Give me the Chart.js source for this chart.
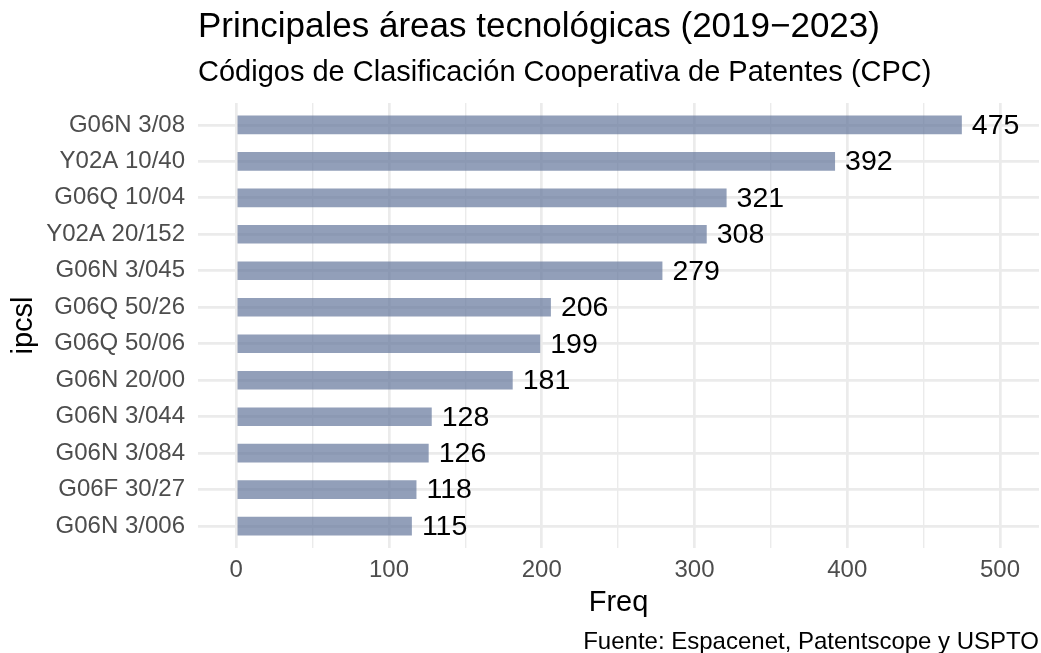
<!DOCTYPE html>
<html>
<head>
<meta charset="utf-8">
<script src="https://cdn.jsdelivr.net/npm/chart.js@4.4.1/dist/chart.umd.min.js"></script>
<style>
  html, body { margin: 0; padding: 0; background: #fff; }
</style>
</head>
<body>
<canvas id="ipcChart" width="1041" height="653"></canvas>
<script>
// CPC codes, listed top to bottom
const codes = [
  'G06N 3/08', 'Y02A 10/40', 'G06Q 10/04', 'Y02A 20/152',
  'G06N 3/045', 'G06Q 50/26', 'G06Q 50/06', 'G06N 20/00',
  'G06N 3/044', 'G06N 3/084', 'G06F 30/27', 'G06N 3/006'
];
const freq = [475, 392, 321, 308, 279, 206, 199, 181, 128, 126, 118, 115];
const freqTicks = [0, 100, 200, 300, 400, 500];

const titleText = 'Principales áreas tecnológicas (2019−2023)';
const subtitleText = 'Códigos de Clasificación Cooperativa de Patentes (CPC)';
const captionText = 'Fuente: Espacenet, Patentscope y USPTO';

const FONT = "'Liberation Sans', Arial, Helvetica, sans-serif";
Chart.defaults.font.family = FONT;

// major ticks carry labels, minor ones sit halfway between
function freqGrid() {
  const out = [];
  freqTicks.forEach((v, i) => {
    out.push({ value: v, major: true });
    if (i < freqTicks.length - 1) out.push({ value: (v + freqTicks[i + 1]) / 2 });
  });
  return out;
}

// value labels at the end of each bar, plus title / subtitle / caption
const textLayer = {
  id: 'textLayer',
  afterDatasetsDraw(chart) {
    const ctx = chart.ctx;
    const meta = chart.getDatasetMeta(0);
    ctx.save();
    ctx.fillStyle = '#000';
    ctx.font = '28.5px ' + FONT;
    ctx.textAlign = 'left';
    ctx.textBaseline = 'middle';
    meta.data.forEach((bar, i) => {
      ctx.fillText(String(freq[i]), bar.x + 10, bar.y + 1);
    });
    ctx.restore();
  },
  afterDraw(chart) {
    const ctx = chart.ctx;
    const area = chart.chartArea;
    ctx.save();
    ctx.fillStyle = '#000';
    ctx.textBaseline = 'alphabetic';
    ctx.textAlign = 'left';
    ctx.font = '35px ' + FONT;
    ctx.fillText(titleText, area.left, 37);
    ctx.font = '29px ' + FONT;
    ctx.fillText(subtitleText, area.left, 81);
    ctx.textAlign = 'right';
    ctx.font = '24px ' + FONT;
    ctx.fillText(captionText, area.right, 649);
    ctx.restore();
  }
};

new Chart(document.getElementById('ipcChart'), {
  type: 'bar',
  data: {
    datasets: [{
      data: freq.map((v, i) => ({ x: v, y: i + 1 })),
      backgroundColor: 'rgba(100, 118, 155, 0.7)',
      borderWidth: 0,
      barPercentage: 0.51,
      categoryPercentage: 1
    }]
  },
  options: {
    indexAxis: 'y',
    responsive: false,
    animation: false,
    devicePixelRatio: 1,
    layout: { padding: { top: 103, right: 2, left: 0, bottom: 0 } },
    plugins: {
      legend: { display: false },
      tooltip: { enabled: false }
    },
    scales: {
      x: {
        type: 'linear',
        min: -25,
        max: 525.5,
        afterFit: s => { s.height = 105; },
        afterBuildTicks: s => { s.ticks = freqGrid(); },
        border: { display: false },
        grid: {
          color: '#ebebeb',
          lineWidth: c => freqTicks.includes(c.tick.value) ? 2.7 : 1.4,
          drawTicks: false
        },
        ticks: {
          autoSkip: false,
          maxRotation: 0,
          padding: 8,
          color: '#4d4d4d',
          font: { size: 24 },
          callback: v => freqTicks.includes(v) ? String(v) : ''
        },
        title: {
          display: true,
          text: 'Freq',
          color: '#000',
          font: { size: 29 },
          padding: { top: 0, bottom: 33 }
        }
      },
      y: {
        type: 'linear',
        reverse: true,
        offset: false,
        min: 0.4,
        max: 12.6,
        afterFit: s => { s.width = 198; },
        afterBuildTicks: s => { s.ticks = codes.map((c, i) => ({ value: i + 1 })); },
        border: { display: false },
        grid: {
          offset: false,
          color: '#ebebeb',
          lineWidth: 2.7,
          drawTicks: false
        },
        ticks: {
          autoSkip: false,
          padding: 13,
          color: '#4d4d4d',
          font: { size: 24 },
          callback: v => codes[v - 1] || ''
        },
        title: {
          display: true,
          text: 'ipcsl',
          color: '#000',
          font: { size: 29 },
          padding: { top: 7, bottom: 0 }
        }
      }
    }
  },
  plugins: [textLayer]
});
</script>
</body>
</html>
